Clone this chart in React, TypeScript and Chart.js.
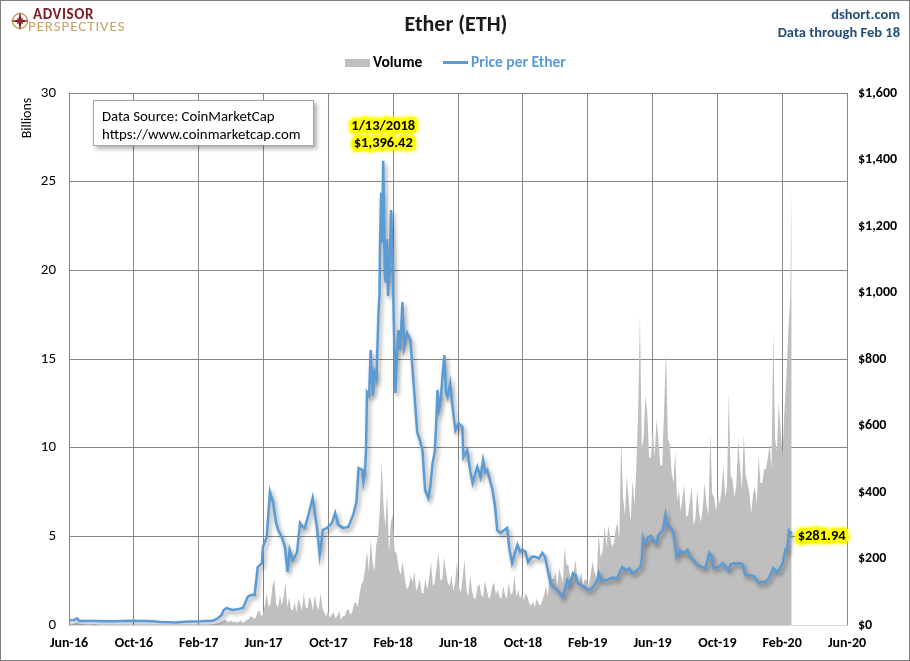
import React, { useEffect, useRef } from 'react';
import { Chart, registerables } from 'chart.js';

Chart.register(...registerables);

const FONT = 'Carlito, Calibri, Lato, "Open Sans", sans-serif';

const xTickLabels = ['Jun-16', 'Oct-16', 'Feb-17', 'Jun-17', 'Oct-17', 'Feb-18', 'Jun-18', 'Oct-18', 'Feb-19', 'Jun-19', 'Oct-19', 'Feb-20', 'Jun-20'];

const priceDates = [
  '2016-06-01', '2016-06-10', '2016-06-16', '2016-06-20', '2016-07-01', '2016-07-20', '2016-08-05', '2016-08-25',
  '2016-09-10', '2016-09-25', '2016-10-10', '2016-10-20', '2016-11-05', '2016-11-20', '2016-12-05', '2016-12-20',
  '2017-01-05', '2017-01-20', '2017-02-05', '2017-02-25', '2017-03-05', '2017-03-14', '2017-03-18', '2017-03-23',
  '2017-04-04', '2017-04-15', '2017-04-23', '2017-05-02', '2017-05-08', '2017-05-15', '2017-05-21', '2017-05-29',
  '2017-05-31', '2017-06-07', '2017-06-13', '2017-06-19', '2017-06-24', '2017-06-28', '2017-07-05', '2017-07-11',
  '2017-07-16', '2017-07-20', '2017-07-26', '2017-08-03', '2017-08-09', '2017-08-14', '2017-08-18', '2017-08-24',
  '2017-09-02', '2017-09-06', '2017-09-10', '2017-09-15', '2017-09-21', '2017-09-29', '2017-10-08', '2017-10-14',
  '2017-10-20', '2017-10-29', '2017-11-08', '2017-11-17', '2017-11-23', '2017-11-27', '2017-12-04', '2017-12-06',
  '2017-12-09', '2017-12-11', '2017-12-13', '2017-12-17', '2017-12-20', '2017-12-24', '2017-12-27', '2017-12-31',
  '2018-01-04', '2018-01-06', '2018-01-07', '2018-01-09', '2018-01-11', '2018-01-13', '2018-01-16', '2018-01-18',
  '2018-01-20', '2018-01-22', '2018-01-25', '2018-01-28', '2018-01-31', '2018-02-02', '2018-02-05', '2018-02-07',
  '2018-02-10', '2018-02-13', '2018-02-17', '2018-02-20', '2018-02-25', '2018-03-03', '2018-03-09', '2018-03-16',
  '2018-03-21', '2018-03-26', '2018-03-31', '2018-04-06', '2018-04-10', '2018-04-14', '2018-04-18', '2018-04-21',
  '2018-04-23', '2018-04-26', '2018-04-29', '2018-05-04', '2018-05-06', '2018-05-09', '2018-05-12', '2018-05-17',
  '2018-05-22', '2018-05-27', '2018-06-02', '2018-06-06', '2018-06-09', '2018-06-11', '2018-06-18', '2018-06-24',
  '2018-06-28', '2018-07-07', '2018-07-13', '2018-07-18', '2018-07-22', '2018-07-26', '2018-08-01', '2018-08-05',
  '2018-08-10', '2018-08-14', '2018-08-20', '2018-08-27', '2018-09-02', '2018-09-06', '2018-09-11', '2018-09-16',
  '2018-09-21', '2018-09-26', '2018-09-30', '2018-10-06', '2018-10-11', '2018-10-18', '2018-10-25', '2018-11-01',
  '2018-11-07', '2018-11-12', '2018-11-16', '2018-11-19', '2018-11-22', '2018-11-28', '2018-12-05', '2018-12-10',
  '2018-12-15', '2018-12-20', '2018-12-24', '2018-12-28', '2019-01-04', '2019-01-09', '2019-01-14', '2019-01-22',
  '2019-02-02', '2019-02-08', '2019-02-18', '2019-02-20', '2019-02-25', '2019-03-07', '2019-03-16', '2019-03-27',
  '2019-04-02', '2019-04-05', '2019-04-12', '2019-04-18', '2019-04-24', '2019-04-29', '2019-05-09', '2019-05-12',
  '2019-05-14', '2019-05-18', '2019-05-24', '2019-05-29', '2019-06-03', '2019-06-08', '2019-06-12', '2019-06-20',
  '2019-06-25', '2019-06-28', '2019-07-04', '2019-07-10', '2019-07-16', '2019-07-22', '2019-07-29', '2019-08-06',
  '2019-08-10', '2019-08-18', '2019-08-25', '2019-09-02', '2019-09-09', '2019-09-16', '2019-09-20', '2019-09-24',
  '2019-10-04', '2019-10-11', '2019-10-17', '2019-10-22', '2019-10-26', '2019-11-01', '2019-11-07', '2019-11-13',
  '2019-11-18', '2019-11-23', '2019-12-03', '2019-12-10', '2019-12-18', '2019-12-24', '2019-12-31', '2020-01-07',
  '2020-01-15', '2020-01-19', '2020-01-23', '2020-01-28', '2020-02-02', '2020-02-07', '2020-02-10', '2020-02-13',
  '2020-02-15', '2020-02-18',
];

const priceValues = [
  14, 15, 20, 12, 12, 12, 11, 11,
  12, 13, 12, 12, 11, 9, 8, 7.5,
  10, 10.5, 11, 13, 18, 30, 45, 51,
  45, 48, 51, 85, 90, 90, 174, 186,
  235, 265, 400, 367, 310, 286, 265, 235,
  160, 226, 195, 217, 307, 295, 292, 325,
  382, 337, 292, 211, 286, 292, 307, 337,
  301, 292, 295, 331, 370, 472, 466, 430,
  460, 520, 700, 690, 827, 690, 760, 740,
  940, 997, 1150, 1300, 1150, 1396.42, 1050, 1030,
  1160, 990, 1060, 1248, 1110, 920, 698, 800,
  887, 827, 971, 836, 878, 857, 728, 580,
  556, 526, 406, 382, 420, 487, 520, 617,
  707, 650, 677, 780, 812, 700, 686, 727,
  650, 586, 607, 600, 596, 505, 526, 460,
  427, 476, 445, 496, 460, 466, 430, 406,
  355, 285, 277, 285, 292, 230, 186, 215,
  241, 220, 226, 220, 189, 205, 205, 200,
  217, 205, 174, 150, 126, 115, 105, 95,
  84, 110, 135, 120, 156, 150, 126, 118,
  105, 110, 135, 156, 135, 135, 142, 141,
  165, 174, 165, 170, 156, 160, 174, 200,
  262, 245, 265, 268, 250, 245, 271, 285,
  331, 300, 295, 277, 205, 226, 215, 226,
  205, 195, 180, 175, 171, 217, 210, 171,
  175, 186, 175, 165, 182, 186, 185, 186,
  182, 150, 150, 145, 126, 130, 129, 142,
  171, 165, 159, 170, 186, 226, 222, 280,
  272, 281.94,
];

// Volume (billions USD) sampled every 7 days from 2016-06-01; last sample clipped to 2020-02-18
const volumeStart = '2016-06-01';
const volumeEnd = '2020-02-18';
const volumeWeekly = [
  // 2016
  0.03, 0.06, 0.12, 0.06, 0.04,
  0.04, 0.03, 0.05, 0.03,
  0.02, 0.02, 0.02, 0.01, 0.01,
  0.01, 0.01, 0.02, 0.01,
  0.02, 0.02, 0.01, 0.01,
  0.01, 0.01, 0.01, 0.01, 0.01,
  0.01, 0.01, 0.01, 0.01,
  // 2017
  0.02, 0.02, 0.01, 0.01,
  0.01, 0.02, 0.02, 0.03,
  0.05, 0.1, 0.2, 0.3, 0.2,
  0.15, 0.12, 0.25, 0.15,
  0.3, 0.5, 0.4, 0.85, 0.6,
  1.8, 1.2, 2.6, 1.0,
  1.1, 2.4, 1.6, 0.8,
  0.7, 1.2, 1.8, 0.9, 1.4,
  1.7, 0.8, 1.0, 0.5,
  0.4, 0.7, 0.5, 0.3,
  0.5, 0.9, 0.7, 1.3, 1.8,
  2.5, 4.2, 4.8, 3.0,
  // 2018
  5.0, 9.2, 5.5, 4.0, 6.2,
  4.0, 2.8, 2.6, 2.2,
  2.4, 1.9, 2.6, 1.8,
  2.0, 3.6, 2.4, 4.1,
  2.6, 3.0, 2.2, 1.9, 3.6,
  1.8, 3.7, 1.6, 1.9,
  1.5, 2.3, 1.6, 2.0,
  1.6, 2.4, 2.0, 1.5, 1.7,
  2.4, 1.8, 1.6, 1.5,
  1.4, 1.6, 1.1, 1.0, 1.2,
  1.4, 2.2, 3.2, 2.6,
  2.2, 2.8, 4.4, 3.4,
  // 2019
  2.6, 3.7, 2.3, 2.2, 2.5,
  2.8, 3.0, 5.2, 4.2,
  4.4, 5.0, 4.6, 5.8,
  10.4, 6.2, 7.0, 8.2,
  8.8, 17.5, 10.5, 12.0, 9.5,
  9.5, 10.4, 9.0, 15.5,
  10.2, 8.0, 7.0, 6.4, 7.9,
  6.2, 7.8, 6.0, 6.4,
  6.6, 6.8, 10.8, 7.2,
  7.4, 7.6, 7.2, 13.2, 8.2,
  7.8, 9.0, 10.8, 8.0,
  6.3, 7.8, 9.6, 8.0,
  // 2020
  8.8, 10.2, 16.6, 9.8, 11.0,
  12.0, 16.6, 25.0,
];
// Volume (billions USD) half a week after each weekly sample above
const volumeMidweek = [
  // 2016
  0.08, 0.09, 0.07, 0.05, 0.03,
  0.03, 0.04, 0.03, 0.02,
  0.02, 0.01, 0.01, 0.02, 0.01,
  0.01, 0.02, 0.01, 0.01,
  0.01, 0.02, 0.01, 0.01,
  0.01, 0.01, 0.01, 0.01, 0.01,
  0.01, 0.01, 0.01, 0.02,
  // 2017
  0.01, 0.01, 0.01, 0.02,
  0.02, 0.01, 0.03, 0.04,
  0.08, 0.15, 0.25, 0.15, 0.25,
  0.2, 0.18, 0.12, 0.3,
  0.45, 0.35, 0.7, 0.5, 1.1,
  1.0, 2.2, 1.2, 1.7,
  1.6, 1.0, 0.9, 1.3,
  1.5, 0.8, 1.0, 1.6, 0.8,
  1.1, 1.8, 0.7, 0.8,
  0.6, 0.4, 0.8, 0.5,
  0.8, 0.6, 1.2, 1.0, 2.3,
  3.2, 3.0, 3.6, 4.5,
  // 2018
  6.5, 6.8, 7.5, 5.8, 4.2,
  3.2, 3.6, 2.0, 2.8,
  3.0, 2.2, 1.8, 2.6,
  2.6, 2.2, 3.3, 2.5,
  3.8, 2.4, 2.8, 2.4, 2.2,
  2.6, 2.0, 2.8, 1.5,
  2.2, 1.7, 2.5, 1.5,
  2.2, 1.7, 1.6, 2.2, 1.5,
  1.7, 2.8, 2.0, 1.8,
  1.8, 1.2, 1.3, 1.5, 1.1,
  1.7, 1.6, 2.6, 3.0,
  3.2, 2.4, 3.4, 2.7,
  // 2019
  3.0, 2.4, 3.0, 2.6, 2.2,
  3.6, 2.6, 3.8, 5.6,
  5.6, 4.4, 5.4, 4.8,
  7.2, 8.4, 5.8, 6.8,
  12.0, 10.0, 13.0, 9.4, 11.0,
  11.6, 9.0, 12.2, 10.5,
  8.6, 9.8, 7.6, 7.2, 6.1,
  7.0, 5.6, 7.6, 5.8,
  8.0, 6.2, 7.4, 6.4,
  6.8, 9.0, 7.8, 8.4, 7.2,
  10.4, 7.6, 8.4, 7.4,
  7.4, 6.8, 8.0, 8.8,
  // 2020
  9.4, 8.8, 10.5, 12.5, 9.6,
  14.0, 18.5,
];

function monthsFromDate(d: Date): number {
  const y = d.getUTCFullYear();
  const m = d.getUTCMonth();
  const day = d.getUTCDate() + d.getUTCHours() / 24;
  const dim = new Date(Date.UTC(y, m + 1, 0)).getUTCDate();
  return (y - 2016) * 12 + (m - 5) + (day - 1) / dim;
}
function parseDate(s: string): Date {
  const [y, m, d] = s.split('-').map(Number);
  return new Date(Date.UTC(y, m - 1, d));
}
function fmtDate(s: string): string {
  const [y, m, d] = s.split('-').map(Number);
  return `${m}/${d}/${y}`;
}

const glowText = (c: CanvasRenderingContext2D, text: string, x: number, y: number, align: CanvasTextAlign) => {
  c.save();
  c.font = `bold 14.5px ${FONT}`;
  c.textAlign = align;
  c.textBaseline = 'middle';
  c.lineJoin = 'round';
  c.shadowColor = '#FFFF00';
  c.shadowBlur = 4;
  c.strokeStyle = '#FFFF00';
  c.lineWidth = 7;
  c.strokeText(text, x, y);
  c.shadowBlur = 0;
  c.shadowColor = 'rgba(0,0,0,0)';
  c.fillStyle = '#000';
  c.fillText(text, x, y);
  c.restore();
};

export default function App() {
  const ref = useRef<HTMLCanvasElement>(null);

  useEffect(() => {
    document.body.style.margin = '0';
    const pricePoints = priceDates.map((d, i) => ({ x: monthsFromDate(parseDate(d)), y: priceValues[i] }));
    const start = parseDate(volumeStart).getTime();
    const end = parseDate(volumeEnd).getTime();
    const DAY = 86400000;
    const volumePoints: { x: number; y: number }[] = [];
    volumeWeekly.forEach((v, i) => {
      volumePoints.push({ x: monthsFromDate(new Date(Math.min(start + i * 7 * DAY, end))), y: v });
      if (i < volumeMidweek.length) {
        volumePoints.push({ x: monthsFromDate(new Date(Math.min(start + (i * 7 + 3.5) * DAY, end))), y: volumeMidweek[i] });
      }
    });

    const shadowPlugin = {
      id: 'lineShadow',
      beforeDatasetDraw(chart: any, args: any) {
        if (args.index !== 0) return;
        const c = chart.ctx;
        c.save();
        c.shadowColor = 'rgba(0,0,0,0.4)';
        c.shadowBlur = 4;
        c.shadowOffsetX = 2;
        c.shadowOffsetY = 3;
      },
      afterDatasetDraw(chart: any, args: any) {
        if (args.index !== 0) return;
        chart.ctx.restore();
      },
    };

    const labelPlugin = {
      id: 'pointLabels',
      afterDatasetsDraw(chart: any) {
        const meta = chart.getDatasetMeta(0);
        let maxI = 0;
        priceValues.forEach((v, i) => { if (v > priceValues[maxI]) maxI = i; });
        const pk = meta.data[maxI];
        const c = chart.ctx as CanvasRenderingContext2D;
        glowText(c, fmtDate(priceDates[maxI]), pk.x, pk.y - 34, 'center');
        glowText(c, '$' + priceValues[maxI].toLocaleString('en-US', { minimumFractionDigits: 2 }), pk.x, pk.y - 17, 'center');
        const li = priceValues.length - 1;
        const last = meta.data[li];
        glowText(c, '$' + priceValues[li].toLocaleString('en-US', { minimumFractionDigits: 2 }), last.x + 6, last.y + 5, 'left');
      },
    };

    const chart = new Chart(ref.current!, {
      type: 'line',
      data: {
        datasets: [
          {
            label: 'Price per Ether',
            data: pricePoints,
            yAxisID: 'y1',
            borderColor: '#5B9BD5',
            borderWidth: 2.5,
            pointRadius: 0,
            tension: 0,
            fill: false,
            order: 0,
          },
          {
            label: 'Volume',
            data: volumePoints,
            yAxisID: 'y',
            backgroundColor: '#BFBFBF',
            borderColor: 'rgba(0,0,0,0)',
            borderWidth: 0,
            pointRadius: 0,
            tension: 0,
            fill: 'origin',
            order: 1,
          },
        ],
      } as any,
      options: {
        animation: false,
        responsive: true,
        maintainAspectRatio: false,
        events: [],
        layout: { padding: { top: 93, left: 0, right: 0, bottom: 0 } },
        plugins: {
          legend: { display: false },
          title: { display: false },
          tooltip: { enabled: false },
        },
        scales: {
          x: {
            type: 'linear',
            min: 0,
            max: 48,
            afterFit: (s: any) => { s.height = 36; },
            grid: { color: '#868686', drawTicks: false, lineWidth: 1 },
            border: { display: true, color: '#D9D9D9' },
            ticks: {
              stepSize: 4,
              autoSkip: false,
              maxRotation: 0,
              padding: 10,
              color: '#000',
              font: { family: FONT, size: 14, weight: 'bold' },
              callback: (v: any) => xTickLabels[Math.round(Number(v) / 4)],
            },
          },
          y: {
            position: 'left',
            min: 0,
            max: 30,
            afterFit: (s: any) => { s.width = 69; },
            grid: {
              color: (ctx: any) => (ctx.tick && ctx.tick.value === 0 ? '#D9D9D9' : '#868686'),
              drawTicks: false,
            },
            border: { display: true, color: '#868686' },
            ticks: { stepSize: 5, padding: 13, color: '#000', font: { family: FONT, size: 15 } },
          },
          y1: {
            position: 'right',
            min: 0,
            max: 1600,
            afterFit: (s: any) => { s.width = 63; },
            grid: { display: false, drawTicks: false },
            border: { display: false },
            ticks: {
              stepSize: 200,
              padding: 11,
              color: '#000',
              font: { family: FONT, size: 14, weight: 'bold' },
              callback: (v: any) => '$' + Number(v).toLocaleString('en-US'),
            },
          },
        },
      } as any,
      plugins: [shadowPlugin, labelPlugin],
    });
    return () => chart.destroy();
  }, []);

  const abs = (s: React.CSSProperties): React.CSSProperties => ({ position: 'absolute', whiteSpace: 'nowrap', ...s });

  return (
    <div style={{ position: 'relative', width: 910, height: 661, background: '#fff', fontFamily: FONT, overflow: 'hidden' }}>
      <canvas ref={ref} />
      {/* logo */}
      <svg style={abs({ left: 10, top: 11 })} width={20} height={20} viewBox="0 0 20 20">
        <circle cx={10} cy={10} r={7.5} fill="none" stroke="#C8A45E" strokeWidth={1.5} />
        <polygon points="10,0.5 11.6,8.4 19.5,10 11.6,11.6 10,19.5 8.4,11.6 0.5,10 8.4,8.4" fill="#7B1E22" />
        <polygon points="10,5 11,9 15,10 11,11 10,15 9,11 5,10 9,9" fill="#A0282E" transform="rotate(45 10 10)" />
      </svg>
      <div style={abs({ left: 33, top: 7, fontSize: 15, fontWeight: 'bold', color: '#7B1E22', letterSpacing: 0.6, lineHeight: '15px' })}>ADVISOR</div>
      <div style={abs({ left: 28, top: 19, fontSize: 15, color: '#C8A45E', lineHeight: '14px', letterSpacing: 0.9 })}>PERSPECTIVES</div>
      {/* title */}
      <div style={abs({ left: 0, width: 912, top: 10, textAlign: 'center', fontSize: 22, fontWeight: 'bold', color: '#1a1a1a', lineHeight: '28px' })}>Ether (ETH)</div>
      {/* source top right */}
      <div style={abs({ right: 10, top: 5, fontSize: 14.5, fontWeight: 'bold', color: '#1F4E79', lineHeight: '18px', textAlign: 'right' })}>
        dshort.com<br />Data through Feb 18
      </div>
      {/* legend */}
      <div style={abs({ left: 345, top: 59, width: 25, height: 8, background: '#BFBFBF' })} />
      <div style={abs({ left: 373, top: 52, fontSize: 15.5, fontWeight: 'bold', color: '#000', lineHeight: '19px' })}>Volume</div>
      <div style={abs({ left: 443, top: 61, width: 25, height: 2.5, background: '#5B9BD5' })} />
      <div style={abs({ left: 471, top: 52, fontSize: 15.5, fontWeight: 'bold', color: '#5B9BD5', lineHeight: '19px' })}>Price per Ether</div>
      {/* axis title */}
      <div style={abs({ left: 27, top: 118, fontSize: 14, color: '#000', transform: 'translate(-50%, -50%) rotate(-90deg)', lineHeight: '16px' })}>Billions</div>
      {/* data source box */}
      <div style={abs({ left: 93, top: 100, width: 221, height: 46, boxSizing: 'border-box', background: '#fff', border: '1px solid #A6A6A6', boxShadow: '3px 3px 4px rgba(0,0,0,0.3)', fontSize: 14.8, color: '#000', padding: '6px 0 0 8px', lineHeight: '18px' })}>
        Data Source: CoinMarketCap<br />https://www.coinmarketcap.com
      </div>
      {/* outer frame */}
      <div style={abs({ left: 0, top: 0, width: 910, height: 661, boxSizing: 'border-box', border: '1px solid #7F7F7F', pointerEvents: 'none' })} />
    </div>
  );
}
